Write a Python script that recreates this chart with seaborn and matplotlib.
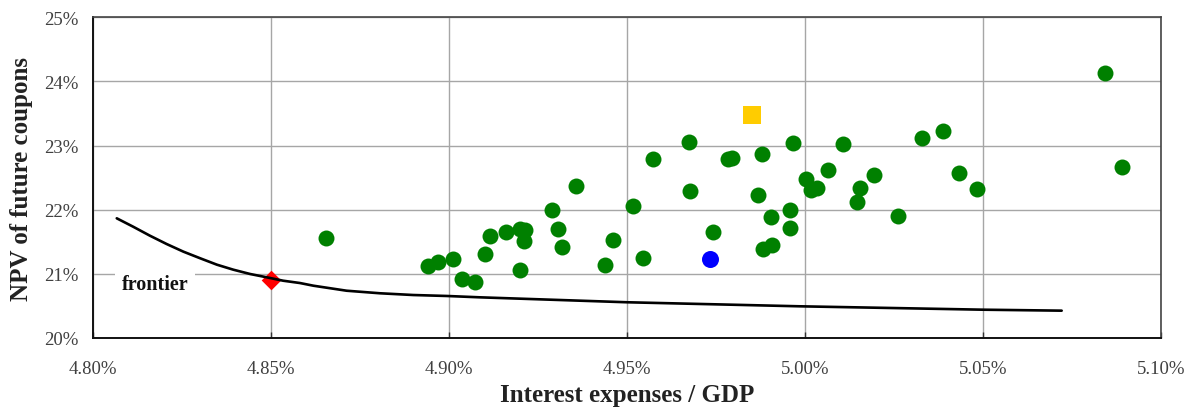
import numpy as np
import pandas as pd
import matplotlib
matplotlib.use("Agg")
import matplotlib.pyplot as plt
import seaborn as sns

# Interest expenses / GDP (%) and NPV of future coupons (%) for candidate strategies
strategy_x = [4.8656, 4.8941, 4.8969, 4.9012, 4.9036, 4.9073, 4.9101, 4.9115, 4.9160, 4.9200,
              4.9214, 4.9211, 4.9200, 4.9290, 4.9307, 4.9318, 4.9357, 4.9437, 4.9462, 4.9516,
              4.9546, 4.9574, 4.9675, 4.9676, 4.9741, 4.9783, 4.9794, 4.9878, 4.9868, 4.9903,
              4.9957, 4.9957, 4.9882, 4.9906, 4.9966, 5.0002, 5.0016, 5.0032, 5.0064, 5.0107,
              5.0153, 5.0146, 5.0194, 5.0260, 5.0328, 5.0387, 5.0431, 5.0482, 5.0842, 5.0889]
strategy_y = [21.564, 21.127, 21.180, 21.239, 20.923, 20.878, 21.305, 21.587, 21.660, 21.699,
              21.687, 21.512, 21.060, 21.996, 21.696, 21.411, 22.374, 21.135, 21.525, 22.061,
              21.243, 22.791, 23.051, 22.289, 21.648, 22.791, 22.802, 22.869, 22.233, 21.882,
              22.000, 21.718, 21.383, 21.453, 23.037, 22.479, 22.300, 22.346, 22.619, 23.017,
              22.343, 22.125, 22.541, 21.902, 23.123, 23.227, 22.577, 22.328, 24.136, 22.661]

# Efficient frontier
frontier_x = [4.8068, 4.8114, 4.8161, 4.8208, 4.8255, 4.8302, 4.8349, 4.8395, 4.8442, 4.8489,
              4.8535, 4.8582, 4.8620, 4.8713, 4.8807, 4.8900, 4.8994, 4.9087, 4.9500, 4.9985,
              5.0500, 5.0720]
frontier_y = [21.866, 21.735, 21.595, 21.465, 21.346, 21.243, 21.143, 21.065, 20.998, 20.946,
              20.893, 20.857, 20.815, 20.737, 20.697, 20.670, 20.655, 20.634, 20.557, 20.494,
              20.441, 20.426]

# Highlighted strategies
optimal_x, optimal_y = [4.8500], [20.904]
blue_x, blue_y = [4.9733], [21.227]
yellow_x, yellow_y = [4.9851], [23.481]

x_ticks = [4.80, 4.85, 4.90, 4.95, 5.00, 5.05, 5.10]
x_tick_labels = ["4.80%", "4.85%", "4.90%", "4.95%", "5.00%", "5.05%", "5.10%"]
y_ticks = [20, 21, 22, 23, 24, 25]
y_tick_labels = ["20%", "21%", "22%", "23%", "24%", "25%"]

sns.set_theme(style="whitegrid")
plt.rcParams["font.family"] = ["Liberation Serif", "DejaVu Serif"]

fig = plt.figure(figsize=(11.97, 4.10), dpi=100)
ax = fig.add_axes([0.0773, 0.1732, 0.8930, 0.7822])

strategies = pd.DataFrame({"x": strategy_x, "y": strategy_y})
frontier = pd.DataFrame({"x": frontier_x, "y": frontier_y})

sns.scatterplot(data=strategies, x="x", y="y", ax=ax, color="#008000", s=132,
                linewidth=0, zorder=3)
sns.scatterplot(x=optimal_x, y=optimal_y, ax=ax, color="#ff0000", marker="D", s=100,
                linewidth=0, zorder=3)
sns.lineplot(data=frontier, x="x", y="y", ax=ax, color="black", linewidth=1.9,
             sort=False, estimator=None, zorder=4)
sns.scatterplot(x=blue_x, y=blue_y, ax=ax, color="#0000ff", s=150, linewidth=0, zorder=5)
sns.scatterplot(x=yellow_x, y=yellow_y, ax=ax, color="#ffcc00", marker="s", s=155,
                linewidth=0, zorder=5)

ax.text(4.8082, 20.845, "frontier", fontsize=14.5, fontweight="bold", color="#111111",
        va="center", ha="left", zorder=4,
        bbox=dict(boxstyle="square,pad=0.35", facecolor="white", edgecolor="none"))

ax.set_xlim(4.80, 5.10)
ax.set_ylim(20, 25)
ax.set_xticks(x_ticks)
ax.set_xticklabels(x_tick_labels)
ax.set_yticks(y_ticks)
ax.set_yticklabels(y_tick_labels)

ax.grid(True, color="#a6a6a6", linewidth=1.0)
ax.set_axisbelow(True)

ax.tick_params(axis="x", which="both", direction="in", length=4, width=1, color="#333333",
               bottom=True, pad=16, labelsize=13.5, labelcolor="#404040")
ax.tick_params(axis="y", which="both", length=0, pad=10, labelsize=13.5, labelcolor="#404040")

for side in ["left", "bottom"]:
    ax.spines[side].set_color("#111111")
    ax.spines[side].set_linewidth(1.4)
for side in ["top", "right"]:
    ax.spines[side].set_color("#444444")
    ax.spines[side].set_linewidth(1.2)

ax.set_xlabel("Interest expenses / GDP", fontsize=18, fontweight="bold", color="#222222",
              labelpad=4)
ax.set_ylabel("NPV of future coupons", fontsize=18, fontweight="bold", color="#222222",
              labelpad=8)

fig.savefig("out.png", dpi=100)
